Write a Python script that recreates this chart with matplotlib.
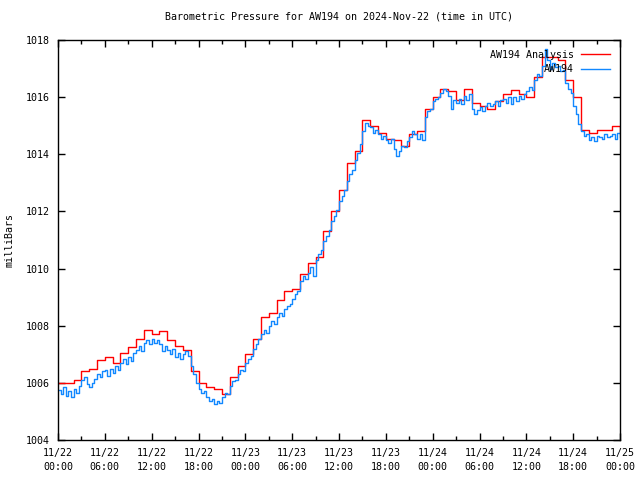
import numpy as np
import matplotlib
matplotlib.use('Agg')
import matplotlib.pyplot as plt
from matplotlib.ticker import MultipleLocator

plt.rcParams['font.family'] = 'DejaVu Sans Mono'
plt.rcParams['font.size'] = 7.2

# analysis, hourly steps (hours since 11/22 00:00 UTC)
analysis = [
    1006.0, 1006.0, 1006.1, 1006.4, 1006.5, 1006.8, 1006.9, 1006.7, 1007.05, 1007.25,
    1007.55, 1007.85, 1007.7, 1007.8, 1007.5, 1007.3, 1007.15, 1006.4, 1006.0, 1005.85,
    1005.8, 1005.6, 1006.2, 1006.6, 1007.0, 1007.55, 1008.3, 1008.45, 1008.9, 1009.2,
    1009.3, 1009.8, 1010.2, 1010.4, 1011.3, 1012.0, 1012.75, 1013.7, 1014.1, 1015.2,
    1015.0, 1014.75, 1014.55, 1014.5, 1014.3, 1014.7, 1014.8, 1015.6, 1016.0, 1016.3,
    1016.2, 1015.9, 1016.3, 1015.8, 1015.7, 1015.6, 1015.85, 1016.1, 1016.25, 1016.1,
    1016.0, 1016.7, 1017.4, 1017.4, 1017.3, 1016.6, 1016.0, 1014.85, 1014.75, 1014.85,
    1014.85, 1015.0, 1014.75,
]

# station obs, every 20 minutes
obs = [
    1005.75, 1005.6, 1005.85, 1005.55, 1005.7, 1005.5, 1005.8, 1005.65, 1005.9,
    1006.1, 1006.2, 1005.95, 1005.85, 1006.0, 1006.15, 1006.3, 1006.2, 1006.4,
    1006.45, 1006.25, 1006.5, 1006.35, 1006.6, 1006.45, 1006.7, 1006.85, 1006.65,
    1006.9, 1006.75, 1007.05, 1007.15, 1007.3, 1007.1, 1007.4, 1007.5, 1007.35,
    1007.55, 1007.4, 1007.5, 1007.35, 1007.1, 1007.3, 1007.15, 1007.0, 1007.2,
    1006.9, 1007.05, 1006.85, 1007.0, 1007.1, 1006.95, 1006.6, 1006.3, 1006.0,
    1005.8, 1005.65, 1005.7, 1005.5, 1005.35, 1005.45, 1005.25, 1005.35, 1005.3,
    1005.5, 1005.65, 1005.6, 1005.9, 1006.05, 1006.1, 1006.3, 1006.45, 1006.4,
    1006.7, 1006.85, 1006.95, 1007.2, 1007.35, 1007.55, 1007.7, 1007.85, 1007.75,
    1008.0, 1008.15, 1008.05, 1008.3, 1008.45, 1008.35, 1008.6, 1008.7, 1008.75,
    1008.95, 1009.1, 1009.2, 1009.55, 1009.75, 1009.65, 1009.85, 1010.05, 1009.75,
    1010.3, 1010.5, 1010.65, 1010.95, 1011.15, 1011.35, 1011.65, 1011.85, 1012.05,
    1012.35, 1012.55, 1012.75, 1013.05, 1013.3, 1013.45, 1013.8, 1014.05, 1014.35,
    1014.8, 1015.1, 1015.0, 1014.95, 1014.75, 1014.85, 1014.7, 1014.55, 1014.65,
    1014.5, 1014.4, 1014.55, 1014.2, 1013.95, 1014.1, 1014.3, 1014.25, 1014.45,
    1014.6, 1014.8, 1014.7, 1014.55, 1014.7, 1014.5, 1015.3, 1015.5, 1015.6,
    1015.85, 1015.95, 1016.0, 1016.15, 1016.3, 1016.2, 1016.05, 1015.6, 1015.9,
    1015.8, 1015.95, 1015.75, 1016.05, 1015.9, 1016.1, 1015.6, 1015.4, 1015.55,
    1015.65, 1015.5, 1015.7, 1015.8, 1015.7, 1015.75, 1015.85, 1015.7, 1015.9,
    1015.95, 1015.8, 1016.0, 1015.75, 1016.0, 1015.85, 1016.05, 1015.95, 1016.1,
    1016.2, 1016.35, 1016.25, 1016.6, 1016.8, 1016.75, 1017.1, 1017.7, 1017.3,
    1017.0, 1017.2, 1017.05, 1017.1, 1016.9, 1016.95, 1016.5, 1016.3, 1016.15,
    1015.7, 1015.4, 1015.05, 1014.8, 1014.65, 1014.7, 1014.5, 1014.6, 1014.45,
    1014.65, 1014.6, 1014.55, 1014.7, 1014.6, 1014.65, 1014.7, 1014.55, 1014.75,
    1014.6,
]

xlabels = ['11/22\n00:00', '11/22\n06:00', '11/22\n12:00', '11/22\n18:00',
           '11/23\n00:00', '11/23\n06:00', '11/23\n12:00', '11/23\n18:00',
           '11/24\n00:00', '11/24\n06:00', '11/24\n12:00', '11/24\n18:00',
           '11/25\n00:00']

t_an = np.arange(len(analysis))
t_obs = np.arange(len(obs)) / 3.0

fig = plt.figure(figsize=(6.4, 4.8), dpi=100)
ax = fig.add_axes([58/640, 40/480, 562/640, 400/480])

ax.plot(t_an, analysis, drawstyle='steps-post', color='#ff0000', lw=1.0, label='AW194 Analysis')
ax.plot(t_obs, obs, drawstyle='steps-post', color='#1188ff', lw=1.0, label='AW194')

ax.set_xlim(0, 72)
ax.set_ylim(1004, 1018)
ax.set_xticks(np.arange(0, 73, 6))
ax.set_xticklabels(xlabels, linespacing=1.5)
ax.xaxis.set_minor_locator(MultipleLocator(3))
ax.set_yticks(np.arange(1004, 1019, 2))
ax.tick_params(which='both', direction='in', top=True, right=True, width=1, pad=6)
ax.tick_params(which='major', length=5)
ax.tick_params(which='minor', length=3)
for s in ax.spines.values():
    s.set_linewidth(1)

ax.set_ylabel('milliBars', labelpad=8)
ax.set_title('Barometric Pressure for AW194 on 2024-Nov-22 (time in UTC)',
             fontsize=7.2, pad=15)
ax.legend(loc='upper right', frameon=False, markerfirst=False, handlelength=2.9,
          borderaxespad=0.6, labelspacing=0.45, handletextpad=0.7)

fig.savefig('out.png', dpi=100)
